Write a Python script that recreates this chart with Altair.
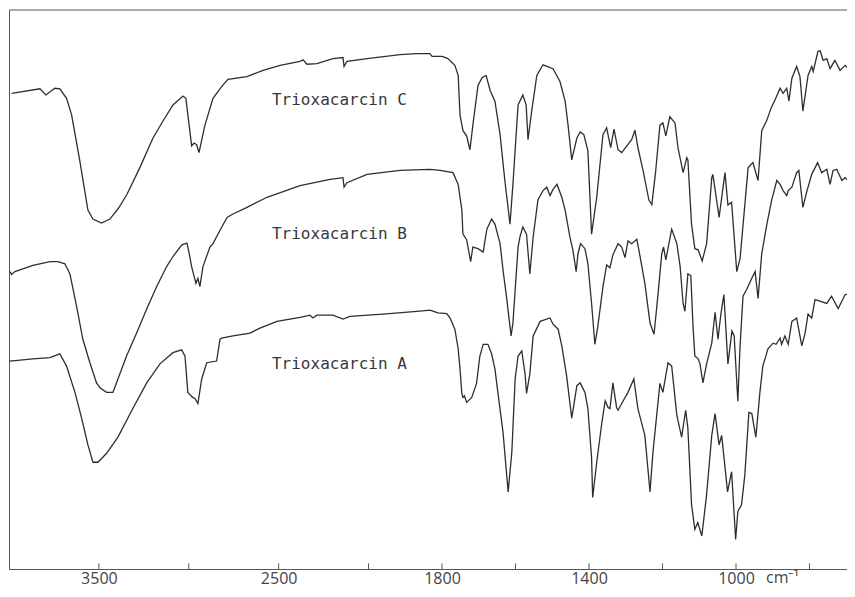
import altair as alt
import pandas as pd

# ---------------- data (wavenumber cm-1, relative transmittance %) ----------------
c_wn = [3985, 3828, 3795, 3745, 3717, 3680, 3652, 3606, 3561, 3533,
        3485, 3439, 3394, 3344, 3272, 3199, 3144, 3088, 3032, 3016,
        2984, 2971, 2956, 2943, 2910, 2865, 2817, 2782, 2676, 2587,
        2492, 2381, 2364, 2342, 2287, 2198, 2142, 2136, 2120, 2008,
        1914, 1868, 1833, 1827, 1800, 1784, 1765, 1756, 1751, 1743,
        1733, 1724, 1716, 1702, 1691, 1680, 1669, 1656, 1642, 1629,
        1615, 1607, 1593, 1580, 1571, 1566, 1556, 1542, 1525, 1498,
        1479, 1465, 1457, 1447, 1433, 1424, 1414, 1403, 1393, 1379,
        1362, 1352, 1341, 1332, 1321, 1311, 1297, 1284, 1275, 1267,
        1253, 1237, 1229, 1219, 1207, 1199, 1191, 1180, 1166, 1158,
        1144, 1134, 1131, 1121, 1112, 1103, 1092, 1080, 1066, 1063,
        1046, 1030, 1022, 1012, 998, 989, 967, 954, 940, 930,
        916, 905, 894, 880, 872, 862, 856, 848, 835, 826,
        818, 804, 794, 790, 777, 771, 763, 753, 744, 731,
        717, 703, 690, 676]
c_t = [85.1, 85.9, 84.8, 86.0, 85.9, 84.2, 81.3, 73.0, 64.2, 62.6,
       61.9, 62.6, 64.4, 67.0, 71.8, 77.1, 80.1, 83.0, 84.6, 84.2,
       75.7, 76.2, 75.9, 74.5, 79.4, 84.2, 86.3, 87.6, 88.1, 89.2,
       90.1, 90.8, 91.1, 90.3, 90.4, 91.3, 91.5, 89.9, 90.8, 91.3,
       92.0, 92.2, 92.2, 91.7, 91.7, 91.3, 90.1, 88.3, 81.2, 78.4,
       77.5, 75.0, 79.4, 86.5, 87.9, 88.3, 85.6, 83.7, 77.7, 69.5,
       61.7, 68.8, 83.0, 84.8, 83.0, 76.8, 81.9, 88.3, 90.2, 89.5,
       87.2, 83.7, 79.4, 73.2, 77.1, 78.2, 77.7, 74.8, 59.9, 66.5,
       77.7, 78.9, 75.4, 78.7, 75.0, 74.5, 75.7, 76.8, 78.5, 75.4,
       71.3, 66.0, 65.2, 70.9, 79.4, 79.8, 77.5, 80.9, 79.8, 75.4,
       70.9, 73.6, 73.2, 61.7, 57.3, 57.1, 55.1, 58.2, 70.0, 70.6,
       62.9, 70.9, 65.1, 65.6, 53.2, 55.5, 71.8, 72.7, 69.5, 78.4,
       80.3, 82.4, 83.9, 86.0, 85.1, 86.0, 83.7, 87.8, 89.9, 88.1,
       81.9, 88.3, 89.9, 89.0, 92.6, 92.7, 91.0, 91.3, 89.5, 91.0,
       89.2, 90.1, 89.2, 88.7]

b_wn = [3995, 3986, 3967, 3867, 3772, 3728, 3689, 3661, 3624, 3589,
        3550, 3513, 3494, 3457, 3422, 3394, 3346, 3290, 3234, 3179,
        3123, 3088, 3038, 3010, 2999, 2984, 2960, 2949, 2938, 2921,
        2882, 2865, 2826, 2787, 2754, 2676, 2565, 2381, 2214, 2142,
        2136, 2120, 2008, 1914, 1833, 1805, 1770, 1756, 1746, 1743,
        1733, 1722, 1716, 1702, 1688, 1678, 1665, 1656, 1642, 1634,
        1624, 1612, 1607, 1593, 1588, 1580, 1570, 1561, 1552, 1539,
        1525, 1515, 1506, 1498, 1487, 1474, 1465, 1452, 1444, 1435,
        1430, 1423, 1411, 1403, 1393, 1384, 1376, 1362, 1352, 1343,
        1335, 1321, 1311, 1302, 1294, 1284, 1270, 1261, 1248, 1234,
        1223, 1212, 1202, 1197, 1191, 1175, 1161, 1152, 1144, 1139,
        1131, 1123, 1117, 1112, 1103, 1098, 1090, 1080, 1066, 1057,
        1049, 1041, 1033, 1022, 1011, 1005, 995, 989, 981, 971,
        957, 948, 940, 930, 916, 903, 889, 880, 872, 862,
        858, 848, 835, 829, 818, 808, 794, 778, 767, 753,
        744, 736, 726, 712, 703, 690, 676]
b_t = [53.2, 52.7, 53.2, 54.3, 55.0, 55.0, 54.6, 52.8, 47.0, 41.1,
       36.9, 33.3, 32.4, 31.6, 31.6, 34.0, 38.1, 42.2, 46.5, 50.5,
       54.1, 55.9, 58.0, 58.3, 56.7, 54.1, 51.1, 52.0, 50.5, 54.1,
       57.6, 58.2, 60.6, 62.9, 63.5, 64.7, 66.5, 68.6, 69.7, 70.0,
       68.3, 69.1, 70.6, 71.3, 71.5, 71.3, 70.9, 68.8, 64.2, 59.9,
       58.9, 55.0, 57.6, 57.3, 56.7, 60.8, 62.6, 61.7, 58.2, 53.5,
       48.4, 41.7, 44.0, 57.6, 59.4, 61.2, 59.9, 52.8, 59.4, 66.0,
       67.7, 68.3, 66.8, 67.9, 68.8, 66.5, 64.2, 59.4, 57.1, 53.2,
       56.4, 58.2, 57.3, 54.6, 47.5, 40.2, 43.4, 50.5, 54.4, 53.9,
       56.2, 58.2, 57.6, 55.7, 58.7, 58.2, 59.0, 55.9, 51.1, 44.0,
       42.0, 49.3, 56.4, 57.6, 55.3, 60.8, 58.2, 54.1, 47.5, 46.1,
       52.8, 52.5, 43.4, 38.1, 37.6, 36.7, 33.3, 36.7, 40.4, 45.9,
       41.1, 45.7, 49.1, 36.7, 42.6, 41.7, 30.0, 39.9, 48.8, 50.0,
       52.0, 53.2, 48.4, 56.4, 61.7, 66.0, 69.5, 68.8, 67.7, 66.8,
       67.7, 68.3, 70.9, 71.3, 64.7, 67.4, 70.6, 72.7, 70.9, 71.5,
       68.8, 71.3, 71.5, 69.5, 70.0, 69.1, 68.8]

a_wn = [3995, 3867, 3772, 3717, 3680, 3633, 3596, 3561, 3533, 3505,
        3457, 3394, 3311, 3234, 3160, 3088, 3040, 3021, 3005, 2978,
        2966, 2949, 2928, 2900, 2845, 2826, 2817, 2754, 2659, 2604,
        2509, 2381, 2326, 2309, 2287, 2198, 2142, 2103, 1961, 1868,
        1833, 1811, 1787, 1778, 1765, 1756, 1751, 1746, 1743, 1739,
        1733, 1719, 1706, 1697, 1688, 1675, 1665, 1656, 1648, 1634,
        1624, 1620, 1610, 1601, 1593, 1583, 1574, 1570, 1561, 1552,
        1533, 1506, 1498, 1484, 1474, 1461, 1447, 1433, 1424, 1411,
        1403, 1393, 1390, 1379, 1365, 1356, 1348, 1343, 1335, 1325,
        1321, 1311, 1294, 1278, 1267, 1248, 1234, 1226, 1207, 1199,
        1185, 1175, 1161, 1148, 1137, 1131, 1121, 1112, 1104, 1093,
        1080, 1066, 1057, 1046, 1039, 1023, 1012, 1001, 995, 985,
        976, 965, 957, 946, 935, 927, 913, 899, 891, 880,
        876, 867, 858, 848, 835, 821, 812, 804, 794, 785,
        753, 740, 722, 703, 676]
a_t = [37.2, 37.6, 37.8, 38.5, 36.3, 31.6, 27.0, 22.2, 19.1, 19.1,
       20.7, 23.6, 28.7, 33.3, 36.7, 38.7, 39.2, 38.1, 31.6, 30.7,
       30.5, 29.6, 34.0, 36.9, 37.2, 41.1, 41.3, 41.7, 42.2, 43.1,
       44.3, 45.0, 45.4, 44.9, 45.4, 45.4, 44.7, 45.2, 45.6, 46.1,
       46.3, 45.8, 45.7, 44.9, 42.9, 39.4, 35.8, 31.4, 30.7, 31.0,
       29.8, 30.7, 33.2, 38.1, 40.2, 40.2, 38.5, 35.8, 31.6, 24.5,
       16.8, 13.8, 20.9, 34.0, 38.1, 39.0, 34.9, 31.4, 34.9, 41.7,
       44.3, 44.9, 43.8, 42.9, 39.9, 34.6, 27.0, 32.8, 33.3, 31.6,
       28.7, 19.9, 12.8, 19.1, 26.2, 30.1, 28.9, 28.7, 33.3, 28.9,
       28.4, 29.6, 31.6, 34.0, 28.7, 23.9, 13.8, 20.9, 33.2, 31.6,
       36.9, 36.3, 27.5, 23.6, 28.4, 25.2, 11.5, 7.1, 8.3, 5.9,
       13.3, 23.9, 27.8, 22.2, 23.9, 13.8, 17.4, 5.3, 10.3, 11.5,
       16.8, 28.0, 27.8, 23.6, 31.6, 36.3, 39.4, 40.4, 40.2, 41.3,
       40.2, 41.7, 40.2, 44.3, 44.9, 39.9, 42.2, 45.6, 44.9, 48.2,
       47.5, 48.8, 46.6, 49.1, 49.3]

series_names = ["Trioxacarcin C", "Trioxacarcin B", "Trioxacarcin A"]
label_wn = [2537, 2537, 2537]
label_t = [83.9, 59.9, 36.7]

tick_values = [3500, 3000, 2500, 2000, 1800, 1600, 1400, 1200, 1000, 800]
label_values = [3500, 2500, 1800, 1400, 1000]
unit_label = ["cm⁻¹"]
unit_wn = [1000]

# ---------------- tables ----------------
rows = []
for name, wn, t in zip(series_names, [c_wn, b_wn, a_wn], [c_t, b_t, a_t]):
    assert len(wn) == len(t), (name, len(wn), len(t))
    for i, (w, v) in enumerate(zip(wn, t)):
        rows.append({"series": name, "wn": w, "T": v, "i": i})
spec_df = pd.DataFrame(rows)
labels_df = pd.DataFrame({"series": series_names, "wn": label_wn, "T": label_t})
ticks_df = pd.DataFrame({"wn": tick_values, "T": [0.0] * len(tick_values),
                         "T2": [1.0] * len(tick_values)})
top_df = pd.DataFrame({"T": [100]})
unit_df = pd.DataFrame({"wn": unit_wn, "T": [0], "txt": unit_label})

INK = "#2e2e2e"
FRAME = "#555555"
LABEL = "#444444"
TICK_FONT = "Open Sans"

W, H = 838, 559
x_scale = alt.Scale(domain=[4000, 2000, 698], range=[0, 359.5, W], nice=False, zero=False)
y_scale = alt.Scale(domain=[0, 100], nice=False, zero=False)

x_axis = alt.Axis(values=label_values, format="d", title=None)
y_axis = alt.Axis(labels=False, title=None)

lines = alt.Chart(spec_df).mark_line(color=INK, strokeWidth=1.3, clip=True).encode(
    x=alt.X("wn:Q", scale=x_scale, axis=x_axis),
    y=alt.Y("T:Q", scale=y_scale, axis=y_axis),
    detail="series:N",
    order="i:Q",
)

top_rule = alt.Chart(top_df).mark_rule(color=FRAME, strokeWidth=1).encode(
    y=alt.Y("T:Q", scale=y_scale)
)

tick_rules = alt.Chart(ticks_df).mark_rule(color=FRAME, strokeWidth=1).encode(
    x=alt.X("wn:Q", scale=x_scale),
    y=alt.Y("T:Q", scale=y_scale),
    y2="T2:Q",
)

texts = alt.Chart(labels_df).mark_text(
    align="left", baseline="middle", font="DejaVu Sans Mono", fontSize=16, color="#383838"
).encode(
    x=alt.X("wn:Q", scale=x_scale),
    y=alt.Y("T:Q", scale=y_scale),
    text="series:N",
)

unit_text = alt.Chart(unit_df).mark_text(
    align="left", baseline="top", dx=30, dy=1, font=TICK_FONT, fontSize=16, color=LABEL
).encode(
    x=alt.X("wn:Q", scale=x_scale),
    y=alt.Y("T:Q", scale=y_scale),
    text="txt:N",
)

chart = alt.layer(lines, top_rule, tick_rules, texts, unit_text).properties(
    width=W, height=H,
    padding={"left": 1, "top": 2, "right": 0, "bottom": 20},
    autosize=alt.AutoSizeParams(type="none"),
    background="white",
).configure_view(
    stroke=None
).configure_axis(
    grid=False, ticks=False, tickSize=0, domain=True, domainColor=FRAME, domainWidth=1,
    labelFont=TICK_FONT, labelFontSize=16, labelColor=LABEL, labelPadding=1,
    labelFlush=False,
)

chart.save("out.html", embed_options={"renderer": "svg", "actions": False})
